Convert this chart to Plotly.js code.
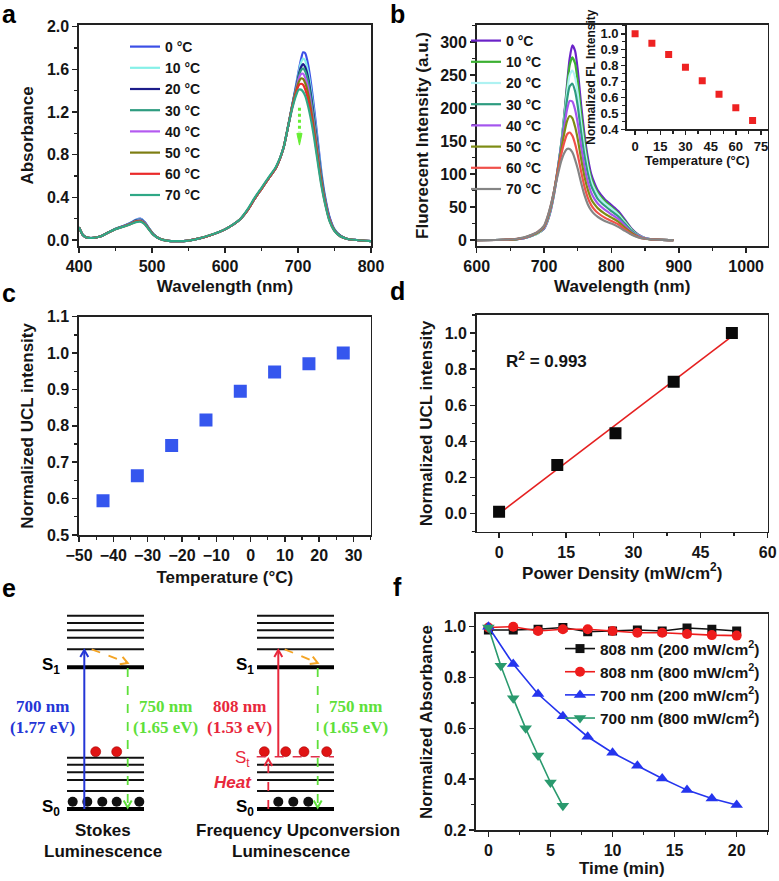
<!DOCTYPE html>
<html><head><meta charset="utf-8">
<script src="https://cdn.plot.ly/plotly-3.0.1.min.js"></script>
<style>html,body{margin:0;padding:0;background:#fff}#chart{width:779px;height:881px}</style>
</head><body><div id="chart"></div>
<script>
// ---------- Panel a: absorbance spectra ----------
const absLabels = ['0 °C','10 °C','20 °C','30 °C','40 °C','50 °C','60 °C','70 °C'];
const wlA = [400,405,410,420,430,440,450,460,470,478,484,490,496,502,510,520,535,550,565,580,600,620,632,640,650,660,670,680,686,692,697,701,704,707,710,714,718,722,727,732,737,743,750,758,768,780,800];
const abs0  = [0.12,0.05,0.025,0.02,0.035,0.07,0.105,0.13,0.16,0.19,0.20,0.17,0.11,0.055,0.015,-0.005,-0.01,-0.005,0.015,0.045,0.10,0.19,0.29,0.38,0.48,0.58,0.68,0.86,1.05,1.26,1.44,1.59,1.69,1.76,1.75,1.64,1.46,1.24,0.94,0.64,0.41,0.22,0.10,0.04,0.01,0.0,-0.01];
const abs10 = [0.12,0.05,0.025,0.02,0.035,0.07,0.105,0.13,0.158,0.187,0.196,0.167,0.108,0.054,0.015,-0.005,-0.01,-0.005,0.015,0.045,0.10,0.19,0.29,0.38,0.48,0.58,0.68,0.86,1.05,1.26,1.43,1.57,1.66,1.70,1.68,1.57,1.40,1.19,0.90,0.62,0.40,0.21,0.10,0.04,0.01,0.0,-0.01];
const abs20 = [0.12,0.05,0.025,0.02,0.035,0.07,0.104,0.128,0.156,0.184,0.192,0.164,0.106,0.053,0.015,-0.005,-0.01,-0.005,0.015,0.045,0.10,0.19,0.29,0.38,0.48,0.58,0.68,0.86,1.05,1.26,1.42,1.55,1.62,1.65,1.62,1.52,1.35,1.15,0.87,0.60,0.39,0.21,0.095,0.04,0.01,0.0,-0.01];
const abs30 = [0.12,0.05,0.025,0.02,0.035,0.07,0.104,0.127,0.154,0.181,0.188,0.161,0.104,0.052,0.014,-0.005,-0.01,-0.005,0.015,0.045,0.10,0.19,0.29,0.38,0.48,0.58,0.68,0.86,1.05,1.26,1.41,1.53,1.59,1.61,1.58,1.48,1.31,1.12,0.85,0.58,0.38,0.20,0.09,0.035,0.01,0.0,-0.01];
const abs40 = [0.12,0.05,0.025,0.02,0.035,0.07,0.103,0.126,0.152,0.178,0.184,0.158,0.102,0.051,0.014,-0.005,-0.01,-0.005,0.015,0.045,0.10,0.19,0.29,0.38,0.48,0.58,0.68,0.86,1.05,1.25,1.40,1.51,1.555,1.56,1.52,1.42,1.26,1.07,0.82,0.56,0.37,0.20,0.09,0.035,0.01,0.0,-0.01];
const abs50 = [0.12,0.05,0.025,0.02,0.035,0.07,0.103,0.125,0.15,0.175,0.18,0.155,0.10,0.05,0.014,-0.005,-0.01,-0.005,0.015,0.045,0.10,0.19,0.29,0.38,0.48,0.58,0.68,0.86,1.05,1.25,1.39,1.48,1.515,1.51,1.47,1.37,1.22,1.04,0.79,0.55,0.36,0.19,0.09,0.035,0.01,0.0,-0.01];
const abs60 = [0.12,0.05,0.025,0.02,0.035,0.07,0.102,0.124,0.148,0.172,0.176,0.152,0.098,0.049,0.013,-0.005,-0.01,-0.005,0.015,0.046,0.10,0.19,0.29,0.38,0.48,0.58,0.68,0.86,1.05,1.24,1.37,1.45,1.465,1.455,1.41,1.31,1.17,1.00,0.76,0.53,0.35,0.19,0.085,0.035,0.01,0.0,-0.01];
const abs70 = [0.12,0.05,0.025,0.02,0.035,0.07,0.102,0.123,0.146,0.168,0.172,0.149,0.096,0.048,0.013,-0.005,-0.01,-0.005,0.016,0.047,0.10,0.19,0.30,0.39,0.49,0.59,0.69,0.86,1.05,1.23,1.35,1.41,1.41,1.39,1.35,1.25,1.12,0.96,0.73,0.51,0.34,0.18,0.085,0.035,0.01,0.0,-0.01];
const absColors = ['#3b4fe6','#86f0e8','#1c1c8a','#2e9c80','#b45af0','#7d7d12','#ea2a2a','#2fa886'];

// ---------- Panel b: fluorescence spectra ----------
const flLabels = ['0 °C','10 °C','20 °C','30 °C','40 °C','50 °C','60 °C','70 °C'];
const wlB = [600,640,660,670,680,690,700,705,710,715,720,725,730,734,738,742,746,750,755,760,765,770,775,780,790,800,810,820,830,840,850,860,875,892];
const fl0  = [0,0.5,1.5,3,6,10,17,28,45,70,102,140,190,235,275,295,287,258,205,160,125,100,86,75,62,53,44,31,17,8,3,1,0.3,0];
const fl10 = [0,0.5,1.5,3,6,10,18,29,47,72,104,142,188,230,265,277,268,240,192,150,117,94,81,71,59,50,41,29,16,7.5,3,1,0.3,0];
const fl20 = [0,0.5,1.5,3,6,10,18,30,48,73,105,143,185,222,250,257,247,222,178,140,110,89,77,68,56,48,39,27,15,7,3,1,0.3,0];
const fl30 = [0,0.5,1.5,3,6,11,19,31,49,74,106,142,180,212,233,237,226,203,163,128,101,82,71,62,52,44,36,25,14,6.5,2.5,1,0.3,0];
const fl40 = [0,0.5,1.5,3,6.5,11,19,32,50,75,106,139,172,197,211,210,198,177,142,111,88,72,62,55,46,39,32,22,12,6,2.5,1,0.3,0];
const fl50 = [0,0.5,1.5,3.5,7,11,20,33,51,75,104,134,162,180,188,185,172,153,123,96,76,62,54,48,40,34,28,19,11,5,2,1,0.3,0];
const fl60 = [0,0.5,2,3.5,7,12,21,34,52,75,101,127,148,160,163,158,146,129,104,81,64,53,46,41,34,29,24,16,9,4.5,2,1,0.3,0];
const fl70 = [0,0.5,2,4,7.5,12,22,35,53,75,97,118,132,138,138,133,122,108,87,68,54,45,39,35,29,25,20,14,8,4,2,1,0.3,0];
const flColors = ['#6a22c8','#3cb032','#aef2f2','#2e9c80','#a455ee','#7d8c14','#f0504a','#858585'];

// inset of b
const insetT = [0,10,20,30,40,50,60,70];
const insetNorm = [1.0,0.94,0.87,0.79,0.705,0.62,0.535,0.455];

// ---------- Panel c ----------
const tempC = [-43,-33,-23,-13,-3,7,17,27];
const uclC = [0.594,0.663,0.746,0.816,0.895,0.948,0.971,1.0];

// ---------- Panel d ----------
const powerD = [0,13,26,39,52];
const uclD = [0.01,0.27,0.445,0.73,1.0];
const fitX = [0,52];
const fitY = [0.0,0.982];

// ---------- Panel f ----------
const timeLong = [0,2,4,6,8,10,12,14,16,18,20];
const timeShort = [0,1,2,3,4,5,6];
const f808_200 = [0.987,0.987,0.99,0.997,0.98,0.983,0.987,0.983,0.995,0.99,0.983];
const f808_800 = [0.997,1.0,0.983,0.99,0.99,0.983,0.976,0.976,0.971,0.967,0.965];
const f700_200 = [1.0,0.853,0.735,0.648,0.567,0.504,0.453,0.403,0.357,0.324,0.298];
const f700_800 = [0.997,0.846,0.718,0.60,0.493,0.387,0.295];
const fLabels = ['808 nm (200 mW/cm<sup>2</sup>)','808 nm (800 mW/cm<sup>2</sup>)','700 nm (200 mW/cm<sup>2</sup>)','700 nm (800 mW/cm<sup>2</sup>)'];

// ---------- Panel e: schematic (diagram units = px) ----------
const diagSpans = [[67,144],[257,334]];
const upperLevels = [615.7,623,630.3,637.7,649.3];
const levelS1 = 667.3, levelS0 = 809;
const lowerLevelsL = [757.7,764.7,772.3,780,791];
const lowerLevelsR = [764.7,772.3,780,791];
const levelSt = 756.7;
const redDotsX = [95.7,116.7,264.3,285.7,304,326.7];
const blackDotsX = [72.7,87.3,102.3,116.7,139.3,278.3,293.3,308.3];

// ---------- helpers ----------
const W = 779, H = 881;
const dxr = (a,b)=>[a/W,b/W];
const dyr = (a,b)=>[1-b/H,1-a/H];
const FONT = 'Arial, Liberation Sans, sans-serif';
const TXT = '#151515';
function axis(o, minorDt){
  return Object.assign({
    showline:true, linewidth:1.6, linecolor:'#222', mirror:true,
    ticks:'outside', ticklen:5, tickwidth:1.5, tickcolor:'#222',
    showgrid:false, zeroline:false, fixedrange:true,
    tickfont:{family:FONT, size:16, color:TXT, weight:'bold'},
    minor:{ticks:'outside', ticklen:3, tickwidth:1.3, tickcolor:'#222', showgrid:false, dtick:minorDt}
  }, o);
}
function ttl(text, size, standoff){
  return {text:text, font:{family:FONT, size:size||17, color:TXT, weight:'bold'}, standoff:(standoff===undefined?6:standoff)};
}

const traces = [];
const absSeries = [abs0,abs10,abs20,abs30,abs40,abs50,abs60,abs70];
absSeries.forEach((s,i)=>traces.push({x:wlA, y:s, xaxis:'x', yaxis:'y', legend:'legend', name:absLabels[i], mode:'lines', line:{color:absColors[i], width:2.2, shape:'spline', smoothing:0.6}}));
const flSeries = [fl0,fl10,fl20,fl30,fl40,fl50,fl60,fl70];
flSeries.forEach((s,i)=>traces.push({x:wlB, y:s, xaxis:'x2', yaxis:'y2', legend:'legend2', name:flLabels[i], mode:'lines', line:{color:flColors[i], width:2.2, shape:'spline', smoothing:0.6}}));
traces.push({x:insetT, y:insetNorm, xaxis:'x3', yaxis:'y3', mode:'markers', showlegend:false, marker:{symbol:'square', size:7, color:'#ee2222'}});
traces.push({x:tempC, y:uclC, xaxis:'x4', yaxis:'y4', mode:'markers', showlegend:false, marker:{symbol:'square', size:13, color:'#3556ee'}});
traces.push({x:fitX, y:fitY, xaxis:'x5', yaxis:'y5', mode:'lines', showlegend:false, line:{color:'#e52020', width:1.6}});
traces.push({x:powerD, y:uclD, xaxis:'x5', yaxis:'y5', mode:'markers', showlegend:false, marker:{symbol:'square', size:12, color:'#0a0a0a'}});
const fSeries = [[timeLong,f808_200,'#111111','square',9],[timeLong,f808_800,'#ee1c1c','circle',10],[timeLong,f700_200,'#2535ee','triangle-up',11],[timeShort,f700_800,'#2a9a6e','triangle-down',11]];
fSeries.forEach((s,i)=>traces.push({x:s[0], y:s[1], xaxis:'x6', yaxis:'y6', legend:'legend3', name:fLabels[i], mode:'lines+markers', line:{color:s[2], width:1.6}, marker:{symbol:s[3], size:s[4], color:s[2]}}));
// e dots
traces.push({x:redDotsX, y:redDotsX.map(()=>751.7), xaxis:'x7', yaxis:'y7', mode:'markers', showlegend:false, marker:{size:10, color:'#e01414', line:{width:0.6,color:'#a00'}}});
traces.push({x:blackDotsX, y:blackDotsX.map(()=>801.7), xaxis:'x7', yaxis:'y7', mode:'markers', showlegend:false, marker:{size:10, color:'#111'}});

// ---------- shapes ----------
const shapes = [];
function seg(x0,y0,x1,y1,color,width,dash){shapes.push({type:'line',xref:'x7',yref:'y7',x0:x0,y0:y0,x1:x1,y1:y1,line:{color:color,width:width,dash:dash||'solid'}});}
function head(x0,y0,x1,y1,color){
  const L=Math.hypot(x1-x0,y1-y0), ux=(x1-x0)/L, uy=(y1-y0)/L, px=-uy, py=ux, len=7, hw=4;
  const bx=x1-ux*len, by=y1-uy*len;
  shapes.push({type:'path',xref:'x7',yref:'y7',path:`M ${bx+px*hw} ${by+py*hw} L ${x1} ${y1} L ${bx-px*hw} ${by-py*hw}`,line:{color:color,width:2}});
}
diagSpans.forEach((sp,k)=>{
  upperLevels.forEach(y=>seg(sp[0],y,sp[1],y,'#111',2));
  (k===0?lowerLevelsL:lowerLevelsR).forEach(y=>seg(sp[0],y,sp[1],y,'#111',2));
  seg(sp[0],levelS1,sp[1],levelS1,'#000',4);
  seg(sp[0],levelS0,sp[1],levelS0,'#000',4);
});
seg(256.7,levelSt,334,levelSt,'#e0304a',1.6,'dash');
const BLUE='#2436d6', GREEN='#5ee03a', ORANGE='#f4a424', RED='#e8283c';
// left diagram
seg(84.3,levelS0,84.3,650.5,BLUE,2); head(84.3,levelS0,84.3,650,BLUE);
seg(91.7,649.3,127.7,663,ORANGE,1.8,'dash'); head(91.7,649.3,127.7,663,ORANGE);
seg(127.7,668,127.7,807,GREEN,1.8,'dash'); head(127.7,668,127.7,807.5,GREEN);
// right diagram
seg(278.3,levelSt,278.3,650.5,RED,2); head(278.3,levelSt,278.3,650,RED);
seg(284.7,649.3,317.7,663,ORANGE,1.8,'dash'); head(284.7,649.3,317.7,663,ORANGE);
seg(317.7,668,317.7,807,GREEN,1.8,'dash'); head(317.7,668,317.7,807.5,GREEN);
seg(268.3,levelS0,268.3,760,RED,1.8,'dash'); head(268.3,levelS0,268.3,759,RED);
// panel a dotted arrow
shapes.push({type:'line',xref:'x',yref:'y',x0:702,y0:1.24,x1:702,y1:1.01,line:{color:'#66ee33',width:3,dash:'dot'}});
shapes.push({type:'path',xref:'x',yref:'y',path:'M 698.5 1.0 L 705.5 1.0 L 702 0.89 Z',fillcolor:'#66ee33',line:{color:'#66ee33',width:1}});

// ---------- annotations ----------
const ann = [];
function pl(t,x,y,size){ann.push({text:'<b>'+t+'</b>',xref:'paper',yref:'paper',x:x/W,y:1-y/H,xanchor:'center',yanchor:'middle',showarrow:false,font:{family:FONT,size:size||25,color:'#000'}});}
pl('a',9,14); pl('b',397,14); pl('c',9,293); pl('d',397,291); pl('e',9,588); pl('f',397,587);
function et(t,x,y,color,fam,size,anchor){ann.push({text:t,xref:'x7',yref:'y7',x:x,y:y,xanchor:anchor||'center',yanchor:'middle',showarrow:false,font:{family:fam,size:size,color:color}});}
const SERIF='Liberation Serif, Times New Roman, serif';
et('<b>700 nm</b>',42.3,707,BLUE,SERIF,17); et('<b>(1.77 eV)</b>',42.3,727.3,BLUE,SERIF,17);
et('<b>750 nm</b>',165,707,GREEN,SERIF,17); et('<b>(1.65 eV)</b>',165,727.3,GREEN,SERIF,17);
et('<b>808 nm</b>',239.3,707,RED,SERIF,17); et('<b>(1.53 eV)</b>',239.3,727.3,RED,SERIF,17);
et('<b>750 nm</b>',355,707,GREEN,SERIF,17); et('<b>(1.65 eV)</b>',355,727.3,GREEN,SERIF,17);
et('<b>S<sub>1</sub></b>',51,666,'#000',FONT,17); et('<b>S<sub>0</sub></b>',51,808,'#000',FONT,17);
et('<b>S<sub>1</sub></b>',245,666,'#000',FONT,17); et('<b>S<sub>0</sub></b>',245,808,'#000',FONT,17);
et('S<sub>t</sub>',242.7,759,RED,FONT,17); et('<b><i>Heat</i></b>',233.3,782.7,RED,FONT,17);
et('<b>Stokes</b>',103.3,830.7,'#111',FONT,17); et('<b>Luminescence</b>',103.3,851.7,'#111',FONT,17);
et('<b>Frequency Upconversion</b>',194,830.7,'#111',FONT,17,'left'); et('<b>Luminescence</b>',291,851.7,'#111',FONT,17);
ann.push({text:'<b>R<sup>2</sup> = 0.993</b>',xref:'x5',yref:'y5',x:10.6,y:0.85,xanchor:'center',yanchor:'middle',showarrow:false,font:{family:FONT,size:17,color:TXT}});

const legFont = {family:FONT,size:14,color:TXT,weight:'bold'};
const smallTick = {family:FONT,size:13,color:TXT,weight:'bold'};
const layout = {
  width:W, height:H, margin:{l:0,r:0,t:0,b:0}, paper_bgcolor:'#fff', plot_bgcolor:'rgba(0,0,0,0)',
  font:{family:FONT,color:TXT},
  xaxis: axis({domain:dxr(79,371), anchor:'y', range:[400,800], dtick:100, tick0:400, title:ttl('Wavelength (nm)',17,6)},50),
  yaxis: axis({domain:dyr(25,246), anchor:'x', range:[-0.056,2.016], dtick:0.4, tick0:0, tickformat:'.1f', title:ttl('Absorbance',17,9)},0.2),
  xaxis2: axis({domain:dxr(476.7,767.7), anchor:'y2', range:[600,1032], dtick:100, tick0:600, title:ttl('Wavelength (nm)',17,6)},50),
  yaxis2: axis({domain:dyr(25,246), anchor:'x2', range:[-9,326], dtick:50, tick0:0, title:ttl('Fluorecent Intensity (a.u.)',17,7)},25),
  xaxis3: axis({domain:dxr(626.7,767.7), anchor:'y3', range:[-5,79], dtick:15, tick0:0, ticklen:4, tickfont:smallTick, title:ttl('Temperature (°C)',13,2)},7.5),
  yaxis3: axis({domain:dyr(25,129.3), anchor:'x3', range:[0.4,1.055], dtick:0.1, tick0:0.4, ticklen:4, tickformat:'.1f', tickfont:smallTick, title:ttl('Normalized FL Intensity',12,2)},0.05),
  xaxis4: axis({domain:dxr(79,370.7), anchor:'y4', range:[-50,35], dtick:10, tick0:-50, title:ttl('Temperature (°C)',17,8)},5),
  yaxis4: axis({domain:dyr(316.7,535), anchor:'x4', range:[0.5,1.1], dtick:0.1, tick0:0.5, tickformat:'.1f', title:ttl('Normalized UCL intensity',17,9)},0.05),
  xaxis5: axis({domain:dxr(476.7,767.7), anchor:'y5', range:[-5,60], dtick:15, tick0:0, title:ttl('Power Density (mW/cm<sup>2</sup>)',17,5)},7.5),
  yaxis5: axis({domain:dyr(315,531.7), anchor:'x5', range:[-0.1,1.1], dtick:0.2, tick0:0, tickformat:'.1f', title:ttl('Normalized UCL intensity',17,7)},0.1),
  xaxis6: axis({domain:dxr(476,767.7), anchor:'y6', range:[-1,22.5], dtick:5, tick0:0, title:ttl('Time (min)',17,4)},2.5),
  yaxis6: axis({domain:dyr(614,830), anchor:'x6', range:[0.2,1.05], dtick:0.2, tick0:0.2, tickformat:'.1f', title:ttl('Normalized Absorbance',17,7)},0.1),
  xaxis7: {domain:[0,390/W], anchor:'y7', range:[0,390], visible:false, fixedrange:true},
  yaxis7: {domain:[0,291/H], anchor:'x7', range:[881,590], visible:false, fixedrange:true},
  legend: {x:125/W, y:1-31/H, xanchor:'left', yanchor:'top', bgcolor:'rgba(0,0,0,0)', borderwidth:0, font:legFont, tracegroupgap:0},
  legend2: {x:466/W, y:1-25/H, xanchor:'left', yanchor:'top', bgcolor:'rgba(0,0,0,0)', borderwidth:0, font:legFont, tracegroupgap:0},
  legend3: {x:560/W, y:1-632/H, xanchor:'left', yanchor:'top', bgcolor:'rgba(0,0,0,0)', borderwidth:0, font:{family:FONT,size:15.5,color:TXT,weight:'bold'}, tracegroupgap:0},
  shapes: shapes, annotations: ann, showlegend:true
};
Plotly.newPlot('chart', traces, layout, {displayModeBar:false, staticPlot:true});
</script></body></html>
